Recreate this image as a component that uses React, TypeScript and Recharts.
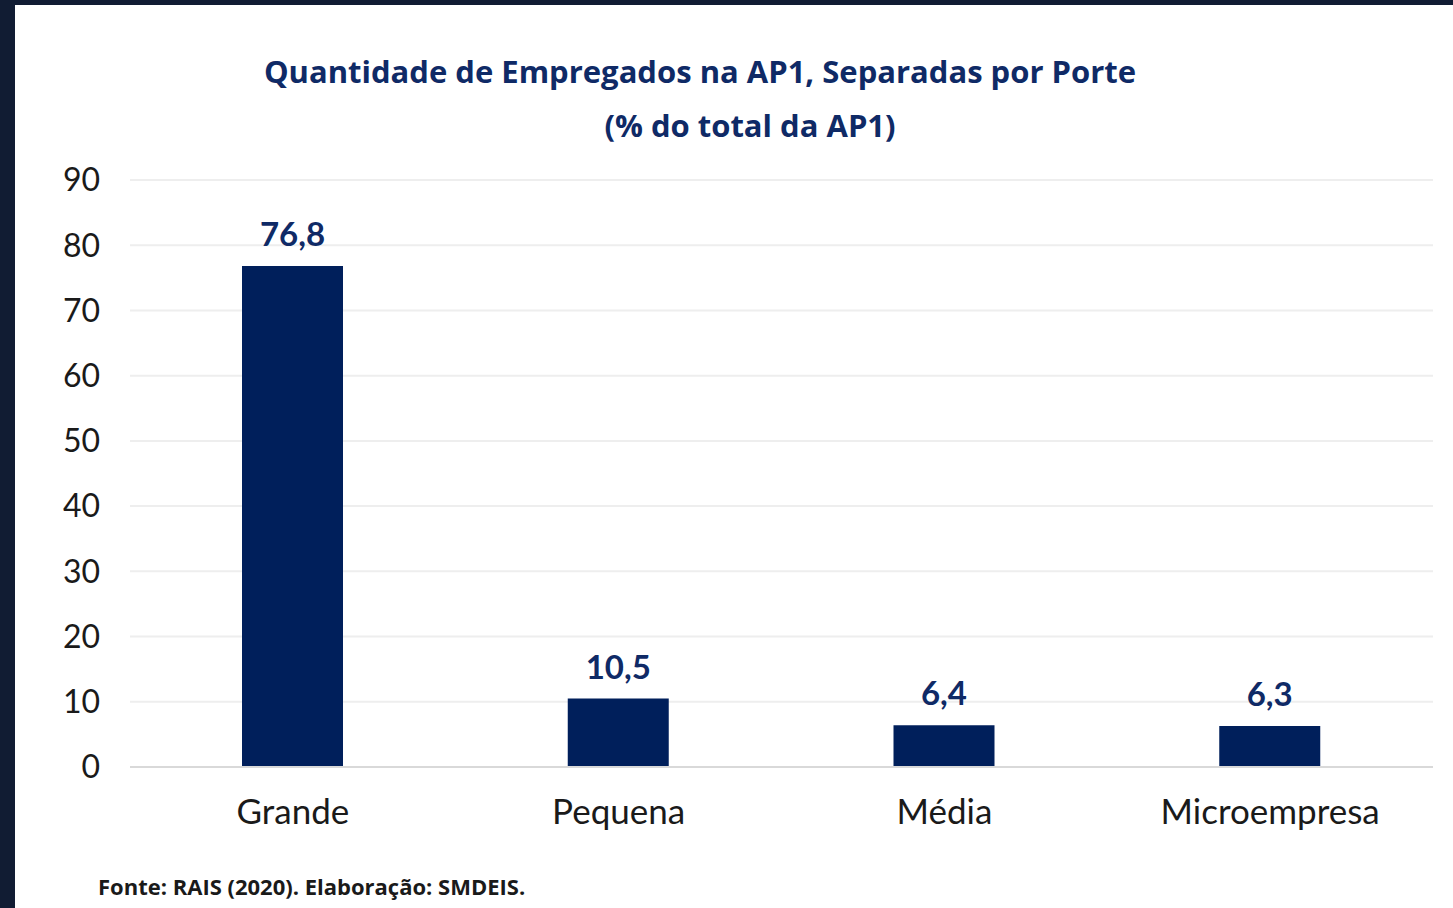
import { BarChart, Bar, XAxis, YAxis, CartesianGrid, LabelList } from 'recharts'

const categories = ['Grande', 'Pequena', 'Média', 'Microempresa']
const shares = [76.8, 10.5, 6.4, 6.3]
const yTicks = [0, 10, 20, 30, 40, 50, 60, 70, 80, 90]

const data = categories.map((porte, i) => ({ porte, valor: shares[i] }))

const NAVY = '#001f5b'
const TITLE = '#0f2a66'

const fmt = (v: number) => v.toFixed(1).replace('.', ',')

export default function App() {
  return (
    <div style={{ position: 'fixed', left: 0, top: 0, width: 1453, height: 908, background: '#111c33', overflow: 'hidden' }}>
      <div style={{ position: 'absolute', left: 15, top: 5, width: 1438, height: 903, background: '#fff' }}>
        <div
          style={{
            position: 'absolute',
            left: 0,
            top: 39,
            width: 1370,
            textAlign: 'center',
            fontFamily: '"Open Sans", sans-serif',
            fontWeight: 700,
            fontSize: 31,
            lineHeight: '54px',
            color: TITLE,
          }}
        >
          <div>Quantidade de Empregados na AP1, Separadas por Porte</div>
          <div style={{ paddingLeft: 100 }}>(% do total da AP1)</div>
        </div>
        <div style={{ position: 'absolute', left: 0, top: 0 }}>
          <BarChart width={1438} height={860} data={data} margin={{ top: 175, right: 20, left: 0, bottom: 38 }}>
            <CartesianGrid horizontal vertical={false} stroke="#eeeeee" strokeWidth={2} />
            <XAxis
              dataKey="porte"
              height={60}
              tickLine={false}
              tickSize={0}
              tickMargin={32}
              axisLine={{ stroke: '#d9d9d9', strokeWidth: 2 }}
              tick={{ fill: '#1a1a1a', fontSize: 35, fontFamily: 'Lato, sans-serif' }}
            />
            <YAxis
              width={115}
              domain={[0, 90]}
              ticks={yTicks}
              interval={0}
              tickLine={false}
              axisLine={false}
              tickSize={0}
              tickMargin={30}
              tick={{ fill: '#1a1a1a', fontSize: 32, fontFamily: 'Lato, sans-serif' }}
            />
            <Bar dataKey="valor" fill={NAVY} barSize={101} isAnimationActive={false}>
              <LabelList
                dataKey="valor"
                position="top"
                offset={20}
                formatter={(v: number) => fmt(v)}
                style={{ fill: TITLE, fontSize: 33, fontWeight: 700, fontFamily: 'Lato, sans-serif' }}
              />
            </Bar>
          </BarChart>
        </div>
        <div
          style={{
            position: 'absolute',
            left: 83,
            top: 866,
            fontFamily: '"Open Sans", sans-serif',
            fontWeight: 700,
            fontSize: 22,
            color: '#1a1a1a',
          }}
        >
          Fonte: RAIS (2020). Elaboração: SMDEIS.
        </div>
      </div>
    </div>
  )
}
